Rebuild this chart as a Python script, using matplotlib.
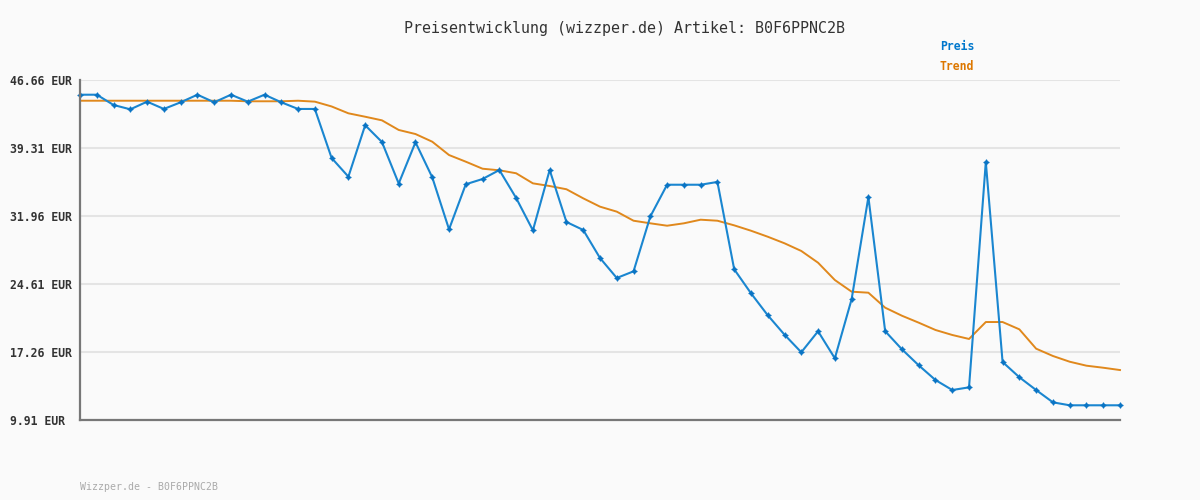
import matplotlib
matplotlib.use("Agg")
import matplotlib.pyplot as plt
import numpy as np

title = "Preisentwicklung (wizzper.de) Artikel: B0F6PPNC2B"
footer = "Wizzper.de - B0F6PPNC2B"
y_ticks = [9.91, 17.26, 24.61, 31.96, 39.31, 46.66]
y_tick_labels = ["9.91 EUR", "17.26 EUR", "24.61 EUR", "31.96 EUR", "39.31 EUR", "46.66 EUR"]

preis = [45.07, 45.07, 43.96, 43.49, 44.32, 43.53, 44.25, 45.07, 44.25, 45.07,
         44.32, 45.07, 44.25, 43.53, 43.53, 38.23, 36.21, 41.77, 39.96, 35.47,
         39.93, 36.14, 30.52, 35.39, 35.96, 36.93, 33.91, 30.41, 36.93, 31.31,
         30.45, 27.42, 25.26, 25.98, 31.91, 35.34, 35.34, 35.34, 35.64, 26.20,
         23.61, 21.23, 19.13, 17.23, 19.50, 16.58, 22.96, 34.01, 19.51, 17.55,
         15.82, 14.23, 13.15, 13.44, 37.80, 16.18, 14.53, 13.15, 11.82, 11.50,
         11.50, 11.50, 11.50]

trend = [44.42, 44.42, 44.42, 44.42, 44.42, 44.42, 44.42, 44.42, 44.42, 44.42,
         44.36, 44.36, 44.36, 44.42, 44.32, 43.80, 43.06, 42.69, 42.30, 41.26,
         40.82, 39.99, 38.55, 37.83, 37.07, 36.90, 36.58, 35.49, 35.20, 34.85,
         33.87, 32.97, 32.43, 31.45, 31.17, 30.91, 31.17, 31.56, 31.45, 30.95,
         30.37, 29.72, 29.01, 28.18, 26.91, 25.04, 23.78, 23.67, 22.05, 21.18,
         20.43, 19.64, 19.10, 18.67, 20.50, 20.50, 19.71, 17.62, 16.83, 16.21,
         15.78, 15.56, 15.31]

bg = "#fafafa"
blue = "#1a86d0"
blue_dark = "#0a74c4"
orange = "#e0881c"

fig = plt.figure(figsize=(12, 5), dpi=100, facecolor=bg)
ax = fig.add_axes([80/1200, 80/500, 1040/1200, 340/500], facecolor=bg)

x = np.arange(len(preis))
ax.plot(x, trend, color=orange, lw=1.4, zorder=3, clip_on=False)
ax.plot(x, preis, color=blue, lw=1.5, zorder=4, clip_on=False,
        marker=(4, 1, 0), markersize=4, markerfacecolor=blue_dark,
        markeredgecolor=blue_dark, markeredgewidth=0.7)

ax.set_xlim(0, len(preis) - 1)
ax.set_ylim(y_ticks[0], y_ticks[-1])
ax.set_yticks(y_ticks)
ax.set_yticklabels(y_tick_labels, family="DejaVu Sans Mono", fontweight="bold",
                   fontsize=8.3, color="#333333", ha="left")
ax.tick_params(axis="y", length=0, pad=50.4)
ax.set_xticks([])
ax.grid(axis="y", color="#e4e4e4", lw=1.5, zorder=0)
ax.set_axisbelow(True)
for s in ["top", "right"]:
    ax.spines[s].set_visible(False)
for s in ["left", "bottom"]:
    ax.spines[s].set_color("#777777")
    ax.spines[s].set_linewidth(1.6)
    ax.spines[s].set_zorder(5)

fig.text(624/1200, 1 - 28/500, title, ha="center", va="center",
         family="DejaVu Sans Mono", fontsize=10.85, color="#333333")
fig.text(940/1200, 1 - 47/500, "Preis", ha="left", va="center",
         family="DejaVu Sans Mono", fontweight="bold", fontsize=8.3, color="#0077cc")
fig.text(940/1200, 1 - 67/500, "Trend", ha="left", va="center",
         family="DejaVu Sans Mono", fontweight="bold", fontsize=8.3, color="#dd7700")
fig.text(80/1200, 1 - 487/500, footer, ha="left", va="center",
         family="DejaVu Sans Mono", fontsize=7.1, color="#aaaaaa")

fig.savefig("out.png", dpi=100, facecolor=bg)
